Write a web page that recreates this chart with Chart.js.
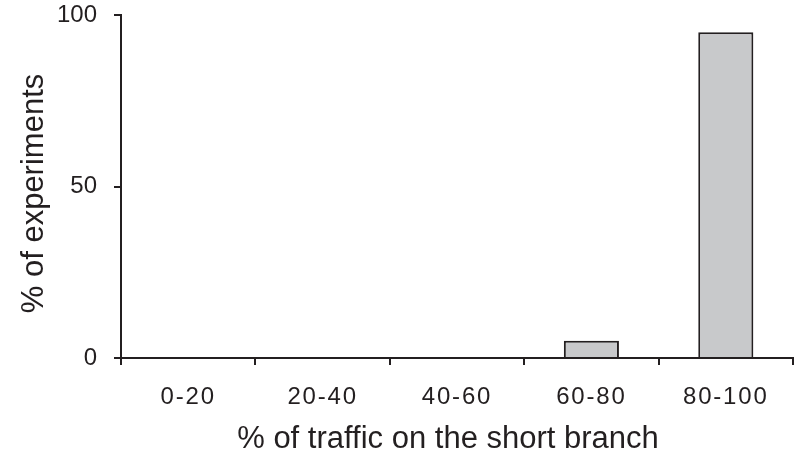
<!DOCTYPE html>
<html lang="en">
<head>
    <meta charset="UTF-8">
    <title>% of experiments by traffic on the short branch</title>
    <script src="https://cdn.jsdelivr.net/npm/chart.js"></script>
    <style>
        html, body { margin: 0; padding: 0; background: #ffffff; }
        #wrap { width: 798px; height: 452px; }
    </style>
</head>
<body>
<div id="wrap">
    <canvas id="barChart"></canvas>
</div>

<script>
    // data
    const categories = ['0-20', '20-40', '40-60', '60-80', '80-100'];
    const experiments = [0, 0, 0, 5, 95];
    const yTicks = [0, 50, 100];

    const ink = '#231f20';
    const fontFamily = 'Liberation Sans, Arial, sans-serif';

    // the category labels are a little letter-spaced in the original,
    // and both titles sit a few pixels off the middle of their axis
    const baseDrawLabels = Chart.Scale.prototype.drawLabels;
    Chart.Scale.prototype.drawLabels = function (area) {
        this.ctx.save();
        if (this.isHorizontal()) {
            this.ctx.letterSpacing = '1.8px';
        }
        baseDrawLabels.call(this, area);
        this.ctx.restore();
    };
    const baseDrawTitle = Chart.Scale.prototype.drawTitle;
    Chart.Scale.prototype.drawTitle = function (area) {
        this.ctx.save();
        if (this.isHorizontal()) {
            this.ctx.translate(-9, 0);
        } else {
            this.ctx.translate(0, 7);
        }
        baseDrawTitle.call(this, area);
        this.ctx.restore();
    };

    const ctx = document.getElementById('barChart').getContext('2d');
    new Chart(ctx, {
        type: 'bar',
        data: {
            labels: categories,
            datasets: [{
                label: '% of experiments',
                data: experiments,
                backgroundColor: '#c8c9cb',
                borderColor: ink,
                borderWidth: 2,
                borderSkipped: 'bottom',
                categoryPercentage: 1,
                barPercentage: 0.41
            }]
        },
        options: {
            responsive: true,
            maintainAspectRatio: false,
            animation: false,
            layout: {
                padding: { top: 15, right: 5, left: 0, bottom: 0 }
            },
            plugins: {
                legend: { display: false },
                tooltip: { enabled: false }
            },
            scales: {
                x: {
                    afterFit: function (scale) { scale.height = 94; },
                    grid: {
                        offset: true,
                        drawOnChartArea: false,
                        drawTicks: true,
                        tickLength: 7,
                        color: ink,
                        lineWidth: 2
                    },
                    border: { display: true, color: ink, width: 2 },
                    ticks: {
                        color: ink,
                        padding: 18,
                        font: { family: fontFamily, size: 24 }
                    },
                    title: {
                        display: true,
                        text: '% of traffic on the short branch',
                        color: ink,
                        padding: { top: 0, bottom: -6 },
                        font: { family: fontFamily, size: 31 }
                    }
                },
                y: {
                    min: 0,
                    max: 100,
                    afterFit: function (scale) {
                        scale.width = 121;
                        scale.paddingTop = 0;
                        scale.paddingBottom = 0;
                    },
                    afterBuildTicks: function (scale) {
                        scale.ticks = yTicks.map(v => ({ value: v }));
                    },
                    grid: {
                        drawOnChartArea: false,
                        drawTicks: true,
                        tickLength: 7,
                        color: ink,
                        lineWidth: 2
                    },
                    border: { display: true, color: ink, width: 2 },
                    ticks: {
                        color: ink,
                        padding: 17,
                        font: { family: fontFamily, size: 24 }
                    },
                    title: {
                        display: true,
                        text: '% of experiments',
                        color: ink,
                        padding: { top: 16, bottom: 0 },
                        font: { family: fontFamily, size: 31 }
                    }
                }
            }
        }
    });
</script>
</body>
</html>
